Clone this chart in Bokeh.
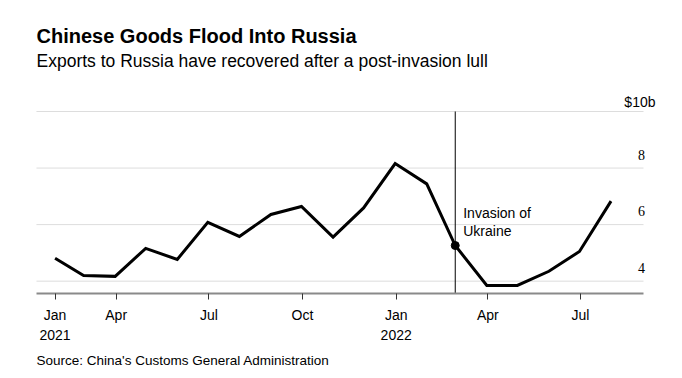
import pandas as pd
from bokeh.plotting import figure
from bokeh.models import FixedTicker, Label, LabelSet, ColumnDataSource, Range1d, Title
from bokeh.embed import file_html
from bokeh.resources import INLINE

# ---- data ----
months = ["2021-01", "2021-02", "2021-03", "2021-04", "2021-05", "2021-06",
          "2021-07", "2021-08", "2021-09", "2021-10", "2021-11", "2021-12",
          "2022-01", "2022-02", "2022-03", "2022-04", "2022-05", "2022-06",
          "2022-07"]
exports = [4.81, 4.20, 4.17, 5.16, 4.77, 6.08, 5.58, 6.36, 6.64, 5.56,
           6.59, 8.16, 7.44, 5.26, 3.85, 3.85, 4.35, 5.05, 6.83]
tick_months = ["2021-01", "2021-04", "2021-07", "2021-10", "2022-01", "2022-04", "2022-07"]
tick_labels = ["Jan\n2021", "Apr", "Jul", "Oct", "Jan\n2022", "Apr", "Jul"]
y_ticks = [4, 6, 8, 10]
y_tick_labels = ["4", "6", "8", "$10b"]
invasion_month = "2022-02"
invasion_label = "Invasion of\nUkraine"
title = "Chinese Goods Flood Into Russia"
subtitle = "Exports to Russia have recovered after a post-invasion lull"
source_note = "Source: China's Customs General Administration"

FONT = "Liberation Sans"

origin = pd.Timestamp("2021-01-01")
month_end = pd.to_datetime(months) + pd.offsets.MonthEnd(0)
x = [int((d - origin).days) for d in month_end]
tick_x = [max(int((pd.Timestamp(m) - origin).days), x[0]) for m in tick_months]
inv_i = months.index(invasion_month)
inv_x = x[inv_i]
inv_y = exports[inv_i]

# layout (data-space extents of the visible chart area)
x_start, x_end = -23.6, 646.2
y_start, y_end = 3.564, 13.925
grid_x0, grid_x1 = 11.7, 607.9

p = figure(width=682, height=378, output_backend="svg", toolbar_location=None,
           x_range=Range1d(x_start, x_end), y_range=Range1d(y_start, y_end),
           y_axis_location=None,
           min_border_left=0, min_border_right=0, min_border_top=0, min_border_bottom=85)
p.outline_line_color = None
p.background_fill_color = "white"
p.border_fill_color = "white"
p.xgrid.visible = False
p.ygrid.visible = False

# horizontal gridlines
p.segment(x0=[grid_x0] * len(y_ticks), x1=[grid_x1] * len(y_ticks), y0=y_ticks, y1=y_ticks,
          line_color="#dddddd", line_width=1)

ax = p.xaxis[0]
ax.bounds = (grid_x0, grid_x1)
ax.ticker = FixedTicker(ticks=tick_x)
ax.major_label_overrides = dict(zip(tick_x, tick_labels))
ax.axis_line_color = "#8a8a8a"
ax.axis_line_width = 2
ax.major_tick_line_color = "#333333"
ax.major_tick_out = 6
ax.major_tick_in = 0
ax.minor_tick_out = 0
ax.minor_tick_in = 0
ax.major_label_standoff = 7
ax.major_label_text_font = FONT
ax.major_label_text_font_size = "14px"
ax.major_label_text_color = "black"
ax.major_label_text_line_height = 1.25

p.segment(x0=[inv_x], y0=[y_start], x1=[inv_x], y1=[y_ticks[-1]],
          line_color="black", line_width=1)
p.line(x, exports, line_color="black", line_width=3, line_join="miter")
p.scatter([inv_x], [inv_y], size=8, color="black")

p.add_layout(Label(x=inv_x, y=inv_y, x_offset=8, y_offset=7, text=invasion_label,
                   text_baseline="bottom", text_align="left", text_font=FONT,
                   text_font_size="14px", text_line_height=1.1, text_color="black"))

ysrc = ColumnDataSource(dict(x=[grid_x1] * (len(y_ticks) - 1), y=y_ticks[:-1],
                             text=y_tick_labels[:-1]))
p.add_layout(LabelSet(x="x", y="y", text="text", source=ysrc, x_offset=1.5, y_offset=8.5,
                      text_align="right", text_baseline="alphabetic", text_font=FONT,
                      text_font_size="14px", text_color="black"))
p.add_layout(Label(x=grid_x1, y=y_ticks[-1], text=y_tick_labels[-1], x_offset=12, y_offset=9.5,
                   text_align="right", text_baseline="alphabetic", text_font=FONT,
                   text_font_size="14px", text_color="black"))

p.add_layout(Label(x=36, y=257.3, x_units="screen", y_units="screen", text=title,
                   text_font=FONT, text_font_style="bold", text_font_size="20px",
                   text_baseline="alphabetic", text_color="black"))
p.add_layout(Label(x=36, y=233, x_units="screen", y_units="screen", text=subtitle,
                   text_font=FONT, text_font_size="17.5px",
                   text_baseline="alphabetic", text_color="black"))

p.add_layout(Title(text=source_note, align="left", offset=36, text_font=FONT,
                   text_font_style="normal", text_font_size="13.5px", text_color="black"),
             "below")

open("out.html", "w").write(file_html(p, INLINE))
